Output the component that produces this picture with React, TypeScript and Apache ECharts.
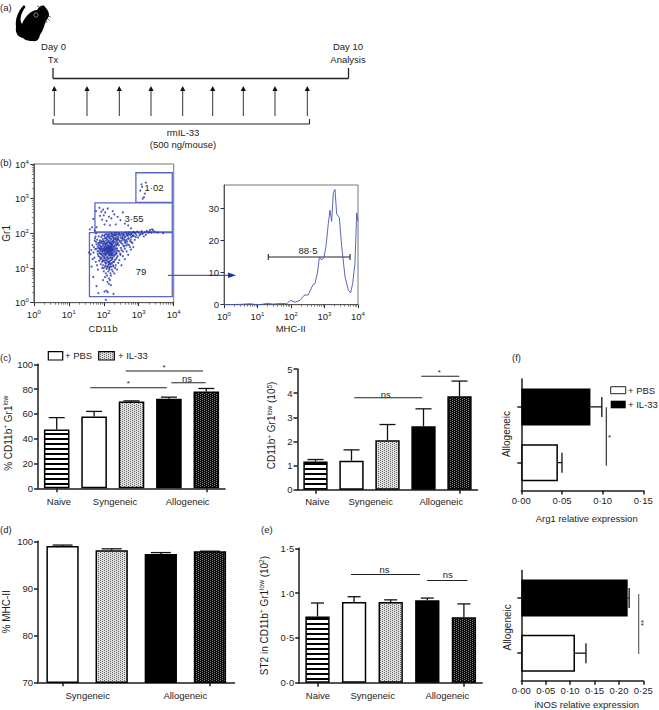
import React, { useEffect, useRef } from "react";
import * as echarts from "echarts";

const FONT = "Liberation Sans";
const INK = "#1c1c1c";

// (b) left: flow cytometry dots, CD11b vs Gr1
const coreDots = [
  [62,48],[66,30],[70,22],[71,38],[74,55],[75,27],[78,44],[80,18],[82,33],[83,60],[85,25],[87,41],[88,52],[90,15],[91,29],[93,36],[94,68],[96,22],[97,47],[99,31],
  [100,58],[102,19],[103,39],[105,26],[106,72],[108,34],[109,50],[110,14],[112,28],[113,43],[115,62],[116,23],[118,37],[119,30],[120,54],[122,17],[123,41],[125,26],[126,33],[128,66],
  [129,21],[130,46],[132,29],[133,38],[135,12],[136,57],[138,24],[139,35],[140,44],[142,19],[143,74],[145,31],[146,27],[148,51],[149,40],[150,16],[152,23],[153,36],[155,63],[156,29],
  [158,47],[159,33],[160,13],[162,25],[164,42],[165,55],[167,20],[168,38],[170,30],[172,80],[173,27],[175,49],[176,18],[178,35],[180,44],[182,24],[184,60],[185,32],[187,15],[189,39],
  [190,52],[192,28],[195,71],[197,22],[198,42],[200,35],[203,57],[205,30],[208,17],[210,46],[213,25],[215,66],[218,38],[220,52],[223,33],[225,85],[228,44],[230,28],[233,60],[236,20],
  [238,48],[240,36],[244,75],[247,55],[250,31],[72,31],[76,36],[79,26],[81,40],[84,30],[86,35],[89,24],[92,43],[95,33],[98,26],[101,36],[104,31],[107,42],[109,24],[111,37],
  [114,33],[117,27],[121,35],[124,39],[127,30],[131,34],[134,27],[137,42],[141,30],[144,37],[147,23],[151,33],[154,41],[157,26],[161,36],[163,31],[166,48],[169,25],[171,42],[174,33],
  [77,21],[83,19],[92,17],[97,16],[104,21],[110,19],[116,17],[124,20],[131,18],[139,15],[147,14],[155,20],[163,17],[172,23],[180,20],[68,42],[73,47],[81,52],[90,58],[99,49],
  [107,55],[117,48],[126,52],[135,61],[145,56],[156,52],[166,68],[178,58],[190,64],[205,72],[118,70],[134,80],[150,72],[170,90],[185,76],[205,88],[222,72],[240,92],[255,66],[262,80],
  [56,72],[60,57],[63,36],[65,66],[67,25],[69,52],[72,82],[74,16],[77,63],[79,35],[82,13],[85,78],[88,20],[91,88],[94,12],[97,60],[100,10],[103,84],[106,16],[109,92],
  [112,12],[115,76],[118,14],[121,95],[124,11],[127,82],[130,15],[133,92],[137,13],[140,86],[144,10],[148,96],[152,13],[157,82],[162,11],[167,100],[172,14],[178,94],[184,12],[190,88],
  [196,15],[202,100],[208,24],[214,92],[220,18],[226,102],[232,26],[240,66],[248,22],[256,50],[264,96],[272,30],[284,62],[296,26],[308,54],[322,33],[336,70],[352,30],[368,44],[384,64],
  [400,36],[420,52],[440,44],[465,58],[495,70],[525,46],[560,40],[590,66],[620,56],[650,82],
];
const bandDots = [
  [260,68],[270,45],[280,90],[290,58],[300,75],[310,38],[320,96],[330,62],[340,50],[350,84],[360,100],[370,70],[380,42],[390,92],[400,56],[415,80],[430,105],[445,66],[460,88],[480,48],
  [500,98],[520,72],[540,108],[560,60],[580,90],[600,78],[630,100],[660,52],[700,110],[730,84],[770,65],[800,102],[850,90],[900,112],[950,76],[1000,105],[1100,95],[1200,115],[1300,100],[1400,82],
  [1500,108],[1700,118],[1900,105],[2100,125],[2400,130],[2600,122],[2900,110],[3500,105],[5000,102],[275,102],[305,88],[335,76],[365,92],[395,78],[425,62],[455,95],[490,84],[530,94],[610,96],[680,88],
  [750,104],[820,78],[1050,88],[1250,96],[1600,92],[2000,112],[2300,105],
];
const tailDots = [
  [90,10],[100,8],[110,11],[115,7],[120,9.5],[125,6],[130,10.5],[135,8],[140,5],[145,9],[150,11],[155,7],[160,6],[170,9],[180,8],[190,11],[200,7],[210,10],[220,12],[240,9],
  [260,14],[280,17],[320,12],[350,22],[400,18],[450,30],[500,24],[600,34],[700,40],[140,3.5],[150,4.5],[160,3.2],[120,2.2],[130,2],[105,2.1],[190,1.8],[115,1.2],[70,1.9],[62,3],[50,5.5],
  [45,11],[48,18],[42,25],[38,28],[52,40],[55,62],[58,80],[60,100],[44,33],[47,46],[51,28],[54,20],[57,35],[59,15],[64,12],[68,9],[95,4.5],[108,5.5],[128,4],[300,24],
];
const upperDots = [
  [60,440],[62,150],[75,540],[78,320],[85,420],[90,250],[95,480],[100,330],[105,180],[110,400],[120,230],[130,520],[140,300],[150,170],[165,270],[180,440],[200,350],[220,180],[250,300],[300,240],
  [350,400],[400,190],[500,170],[600,140],[55,120],[40,130],[46,150],[50,260],
];
const topDots = [[1100,1700],[1200,2600],[1250,2200],[1300,1000],[1400,1100],[1500,1400],[1600,2900]];
const gates = [
  [830, 780, 9100, 5600],
  [56, 110, 9100, 760],
  [39, 1.5, 9100, 105],
];

// (b) right: histogram
const histogram = [
  [1,0],[3,0.1],[6,0.3],[8.4,0.1],[12,0],[18.8,0.4],[30,0.2],[52,0.4],[74,0.3],[98,1.35],[132,0.8],[186,1.35],[245,2.9],[330,3.1],[446,6.1],[521,6.6],[614,9.8],[705,14.8],
  [826,13.9],[966,14.8],[1109,18.2],[1300,25.2],[1459,29.4],[1637,25.9],[1836,34.8],[2057,35.8],[2308,28.2],[2773,27.1],[3253,18.2],[4093,8.7],[5145,4.5],[6040,3.7],[6930,6.6],[8130,12.9],[9120,28.5],[10000,26],
];

// (c) left
const pctValues = [47.5, 58, 70, 72.3, 78];
const pctTops = [57, 62, 70.5, 73.5, 80.5];
// (c) right
const countValues = [1.17, 1.2, 2.05, 2.63, 3.87];
const countTops = [1.25, 1.65, 2.7, 3.35, 4.5];
// (d)
const mhcValues = [99, 98.1, 97.3, 97.9];
const mhcTops = [99.2, 98.4, 97.6, 97.9];
// (e)
const st2Values = [0.74, 0.9, 0.9, 0.92, 0.73];
const st2Tops = [0.89, 0.96, 0.925, 0.945, 0.88];
// (f)
const arg1Values = [0.045, 0.085];
const arg1Tops = [0.05, 0.099];
const inosValues = [0.11, 0.218];
const inosTops = [0.1325, 0.221];

const fiveGroups = ["Naive", "Syngeneic PBS", "Syngeneic IL-33", "Allogeneic PBS", "Allogeneic IL-33"];
const fourGroups = ["Syngeneic PBS", "Syngeneic IL-33", "Allogeneic PBS", "Allogeneic IL-33"];
const twoGroups = ["+ PBS", "+ IL-33"];
const logMinor = [2,3,4,5,6,7,8,9,20,30,40,50,60,70,80,90,200,300,400,500,600,700,800,900,2000,3000,4000,5000,6000,7000,8000,9000];
const arrowXs = [54.3, 87, 119.3, 151, 182.7, 212.7, 243.3, 275, 307.3];

function pattern(kind: "stripe" | "light" | "dark") {
  const c = document.createElement("canvas");
  c.width = 4;
  c.height = kind === "stripe" ? 5 : 4;
  const g = c.getContext("2d")!;
  if (kind === "stripe") {
    g.fillStyle = "#fff"; g.fillRect(0, 0, 4, 5);
    g.fillStyle = "#000"; g.fillRect(0, 3, 4, 2);
  } else {
    g.fillStyle = kind === "light" ? "#e0e0e0" : "#0c0c0c"; g.fillRect(0, 0, 4, 4);
    g.fillStyle = kind === "light" ? "#666" : "#808080";
    [[0,0],[2,1],[0,2],[2,3]].forEach(([x, y]) => g.fillRect(x, y, 1, 1));
  }
  return { image: c, repeat: "repeat", imageWidth: c.width, imageHeight: c.height };
}

const txt = (text: string, x: number, y: number, o: any = {}) => ({
  type: "text", x, y, silent: true, rotation: o.rotation || 0,
  style: { text, fontFamily: FONT, fontSize: o.size || 9.5, fill: o.fill || INK, align: o.align || "center", verticalAlign: "middle" },
});
const seg = (x1: number, y1: number, x2: number, y2: number, o: any = {}) => ({
  type: "line", silent: true, shape: { x1, y1, x2, y2 }, style: { stroke: o.stroke || "#222", lineWidth: o.width || 1.1 },
});

const errorBars = (idx: number, rows: number[][], horizontal: boolean, cap: number) => ({
  type: "custom", xAxisIndex: idx, yAxisIndex: idx, data: rows, silent: true, clip: false,
  encode: horizontal ? { x: [0, 2], y: 1 } : { x: 0, y: [1, 2] },
  renderItem: (_: any, api: any) => {
    const from = api.coord([api.value(0), api.value(1)]);
    const to = horizontal ? api.coord([api.value(2), api.value(1)]) : api.coord([api.value(0), api.value(2)]);
    const style = { stroke: "#111", lineWidth: 1.3 };
    const capShape = horizontal
      ? { x1: to[0], y1: to[1] - cap, x2: to[0], y2: to[1] + cap }
      : { x1: to[0] - cap, y1: to[1], x2: to[0] + cap, y2: to[1] };
    return { type: "group", children: [
      { type: "line", shape: { x1: from[0], y1: from[1], x2: to[0], y2: to[1] }, style },
      { type: "line", shape: capShape, style },
    ] };
  },
});

const barSeries = (idx: number, values: number[], fills: any[], width: number, border = true) => ({
  type: "bar", xAxisIndex: idx, yAxisIndex: idx, barWidth: width, silent: true,
  data: values.map((v, i) => ({ value: v, itemStyle: { color: fills[i], borderColor: "#000", borderWidth: border ? 1.5 : 0 } })),
});

const logLabel = (v: number) => `{b|10}{s|${Math.round(Math.log10(v))}}`;
const dotNum = (d: number) => (v: number) => v.toFixed(d).replace(".", "·");
const nameRich = {
  n: { fontSize: 10, fontFamily: FONT, color: INK, lineHeight: 12 },
  sup: { fontSize: 6.5, fontFamily: FONT, color: INK, verticalAlign: "top", lineHeight: 12 },
};

const lineStyle = { color: INK, width: 1.5 };
const numLabel = { color: INK, fontSize: 9.5, fontFamily: FONT, margin: 5 };

function valueAxis(gridIndex: number, min: number, max: number, interval: number, o: any = {}) {
  return {
    type: "value", gridIndex, min, max, interval, splitLine: { show: false },
    axisLine: { show: true, onZero: false, lineStyle }, axisTick: { show: true, length: 4, lineStyle },
    axisLabel: { ...numLabel, ...(o.decimals != null ? { formatter: dotNum(o.decimals) } : {}) },
    ...(o.name ? { name: o.name, nameLocation: "middle", nameGap: o.gap,
      nameTextStyle: { color: INK, fontSize: 10, fontFamily: FONT, rich: nameRich, padding: o.pad || 0 } } : {}),
    ...(o.extra || {}),
  };
}
function catAxis(gridIndex: number, data: string[], position?: string) {
  return {
    type: "category", gridIndex, data, position, splitLine: { show: false },
    axisLine: { show: true, onZero: false, lineStyle }, axisTick: { show: true, length: 4, alignWithLabel: true, lineStyle },
    axisLabel: { show: false },
  };
}
function logAxis(gridIndex: number, position: string, color: string) {
  return {
    type: "log", logBase: 10, gridIndex, min: 1, max: 10000, position, splitLine: { show: false },
    axisLine: { show: true, onZero: false, lineStyle: { color, width: 1 } },
    axisTick: { show: true, length: 3.5, lineStyle: { color: "#333", width: 1 } },
    axisLabel: { color: INK, fontSize: 9.5, fontFamily: FONT, margin: position === "left" ? 5 : 6, formatter: logLabel,
      rich: {
        b: { fontSize: 9.5, fontFamily: FONT, color: INK, lineHeight: 11 },
        s: { fontSize: 6, fontFamily: FONT, color: INK, verticalAlign: "top", lineHeight: 11 },
      } },
  };
}
function minorLogAxis(gridIndex: number, position: string) {
  return {
    type: "log", logBase: 10, gridIndex, min: 1, max: 10000, position, splitLine: { show: false },
    axisLine: { show: false, onZero: false }, axisLabel: { show: false },
    axisTick: { show: true, length: 2, customValues: logMinor, lineStyle: { color: "#555", width: 0.7 } },
  };
}

export default function App() {
  const ref = useRef<HTMLDivElement>(null);
  useEffect(() => {
    echarts.graphic.registerShape("mouseShape", echarts.graphic.extendPath(
      "M22 24 C25 16 32 10 37 10 C39 6 44 4 45 7 C49 11 50 15 48 18 L46 21 C44 26 43 31 40 35 C39 39 37 42 33 41 C29 41 26 41 23 38 C18 37 15 33 16 27 C15 19 18 11 24 5 L25.5 7 C21 13 19 20 22 24 Z", {}) as any);

    const stripe = pattern("stripe"), light = pattern("light"), dark = pattern("dark");
    const fills5 = [stripe, "#fff", light, "#000", dark];
    const fills4 = ["#fff", light, "#000", dark];

    const chart = echarts.init(ref.current!, null, { renderer: "svg" });
    const blue = "#2132a8";
    const graphics: any[] = [
      // panel letters
      txt("(a)", 0, 7, { align: "left" }), txt("(b)", 0, 162, { align: "left" }), txt("(c)", 0, 357, { align: "left" }),
      txt("(d)", 0, 529, { align: "left" }), txt("(e)", 261, 529, { align: "left" }), txt("(f)", 512, 357, { align: "left" }),
      // (a) schedule
      { type: "mouseShape", silent: true, style: { fill: "#000" } },
      seg(37, 6, 44, 9, { width: 0.6 }), seg(45, 15, 51, 17, { width: 0.6 }), seg(45, 16, 50, 21, { width: 0.6 }), seg(44, 17, 47, 23, { width: 0.6 }),
      { type: "circle", silent: true, shape: { cx: 36, cy: 15, r: 2.2 }, style: { fill: "none", stroke: "#ccc", lineWidth: 0.6 } },
      txt("Day 0", 53.5, 46), txt("Tx", 53, 59), txt("Day 10", 348, 46), txt("Analysis", 348, 59.6),
      seg(53, 68, 53, 78.5, { width: 1.3 }), seg(53, 78.5, 348.5, 78.5, { width: 1.3 }), seg(348.5, 68, 348.5, 78.5, { width: 1.3 }),
      seg(53, 124, 309.5, 124), seg(53, 119, 53, 124), seg(309.5, 119, 309.5, 124),
      txt("rmIL-33", 183, 132.5), txt("(500 ng/mouse)", 183, 144.5),
      ...arrowXs.flatMap((x) => [
        seg(x, 90, x, 116, { width: 1, stroke: "#333" }),
        { type: "polygon", silent: true, shape: { points: [[x, 86], [x - 2.6, 91], [x + 2.6, 91]] }, style: { fill: "#111" } },
      ]),
      // (b) annotations
      txt("CD11b", 103, 328), txt("MHC-II", 290.7, 328),
      txt("1·02", 154, 187.7), txt("3·55", 134, 218), txt("79", 141, 271.3), txt("88·5", 308, 250.7),
      seg(268.3, 257, 350, 257, { width: 1.2 }), seg(268.3, 254, 268.3, 260), seg(350, 254, 350, 260),
      seg(168, 275.3, 230, 275.3, { stroke: blue, width: 1 }),
      { type: "polygon", silent: true, shape: { points: [[236, 275.3], [228, 272.5], [228, 278.1]] }, style: { fill: blue } },
      // (c) legend
      { type: "rect", silent: true, shape: { x: 48.3, y: 351.7, width: 14.4, height: 8.3 }, style: { fill: "#fff", stroke: "#000", lineWidth: 1.2 } },
      txt("+ PBS", 65, 355.6, { align: "left" }),
      { type: "rect", silent: true, shape: { x: 98.7, y: 351.7, width: 15.6, height: 8.3 }, style: { fill: light, stroke: "#000", lineWidth: 1.2 } },
      txt("+ IL-33", 118, 355.6, { align: "left" }),
      // (c) left significance
      seg(125.7, 371, 203, 371), txt("*", 164, 367, { size: 8 }),
      seg(90.3, 387.7, 166.7, 387.7), txt("*", 128.3, 383.5, { size: 8 }),
      seg(171.3, 382.7, 205.7, 382.7), txt("ns", 187, 378),
      // (c) right significance
      seg(354.3, 397.7, 422.3, 397.7), txt("ns", 385.7, 394),
      seg(421.3, 376.3, 459.3, 376.3), txt("*", 439.3, 372.5, { size: 8 }),
      // group labels
      txt("Naive", 59, 501), txt("Syngeneic", 115, 501), txt("Allogeneic", 187.7, 501),
      txt("Naive", 317.3, 501), txt("Syngeneic", 370.7, 501), txt("Allogeneic", 441.3, 501),
      txt("Syngeneic", 87.7, 695.3), txt("Allogeneic", 185.3, 695.3),
      txt("Naive", 318, 695.3), txt("Syngeneic", 372.7, 695.3), txt("Allogeneic", 447.3, 695.3),
      // (e) significance
      seg(351, 574.5, 420, 574.5), txt("ns", 384.5, 569),
      seg(427, 580.5, 467.5, 580.5), txt("ns", 447.7, 574.5),
      // (f)
      { type: "rect", silent: true, shape: { x: 610.7, y: 386.7, width: 15, height: 7 }, style: { fill: "#fff", stroke: "#222", lineWidth: 1 } },
      txt("+ PBS", 628, 390, { align: "left" }),
      { type: "rect", silent: true, shape: { x: 610.7, y: 400.7, width: 15, height: 7.6 }, style: { fill: "#000" } },
      txt("+ IL-33", 628, 404.5, { align: "left" }),
      seg(606.3, 407.3, 606.3, 465.7), txt("*", 609.5, 437, { size: 8 }),
      seg(638.7, 594, 638.7, 654, { stroke: "#555" }), txt("**", 643.3, 623, { size: 8, rotation: Math.PI / 2 }),
      txt("Allogeneic", 506.7, 434, { rotation: Math.PI / 2, size: 10 }), txt("Allogeneic", 507.3, 627.3, { rotation: Math.PI / 2, size: 10 }),
      txt("Arg1 relative expression", 586.7, 518), txt("iNOS relative expression", 586.7, 704.7),
    ];

    const option: any = {
      animation: false,
      backgroundColor: "#fff",
      textStyle: { fontFamily: FONT },
      graphic: { elements: graphics },
      grid: [
        { left: 33, top: 164, width: 140.7, height: 138.7, show: true, borderColor: "#777", borderWidth: 1, backgroundColor: "transparent" },
        { left: 224, top: 185, width: 134, height: 119.7, show: true, borderColor: "#777", borderWidth: 1, backgroundColor: "transparent" },
        { left: 38, top: 364.3, width: 187, height: 124 },
        { left: 297.5, top: 369, width: 180, height: 120.7 },
        { left: 36.5, top: 541.3, width: 198, height: 141 },
        { left: 299.2, top: 548.3, width: 183, height: 134.5 },
        { left: 521.3, top: 379, width: 122, height: 111.5 },
        { left: 521.3, top: 570.5, width: 122, height: 110.2 },
      ],
      xAxis: [
        logAxis(0, "bottom", "#555"),
        logAxis(1, "bottom", "#555"),
        catAxis(2, fiveGroups), catAxis(3, fiveGroups), catAxis(4, fourGroups), catAxis(5, fiveGroups),
        valueAxis(6, 0, 0.15, 0.05, { decimals: 2 }),
        valueAxis(7, 0, 0.25, 0.05, { decimals: 2 }),
        minorLogAxis(0, "bottom"), minorLogAxis(1, "bottom"),
      ],
      yAxis: [
        { ...logAxis(0, "left", "#555"), name: "Gr1", nameLocation: "middle", nameGap: 21,
          nameTextStyle: { color: INK, fontSize: 10, fontFamily: FONT } },
        valueAxis(1, 0, 37.2, 10, { extra: {
          axisTick: { show: true, length: 3.5, customValues: [0, 10, 20, 30], lineStyle: { color: "#333", width: 1 } },
          axisLabel: { ...numLabel, customValues: [0, 10, 20, 30] },
          axisLine: { show: true, onZero: false, lineStyle: { color: "#555", width: 1 } } } }),
        valueAxis(2, 0, 100, 20, { name: "{n|% CD11b}{sup|+}{n| Gr1}{sup|low}", gap: 24, pad: [0, 14, 0, 0] }),
        valueAxis(3, 0, 5, 1, { name: "{n|CD11b}{sup|+}{n| Gr1}{sup|low}{n| (10}{sup|5}{n|)}", gap: 20, pad: [0, 0, 0, 8] }),
        valueAxis(4, 70, 100, 10, { name: "% MHC-II", gap: 27 }),
        valueAxis(5, 0, 1.5, 0.5, { decimals: 1, name: "{n|ST2 in CD11b}{sup|+}{n| Gr1}{sup|low}{n| (10}{sup|2}{n|)}", gap: 29 }),
        { ...catAxis(6, twoGroups) },
        { ...catAxis(7, twoGroups) },
        minorLogAxis(0, "left"),
      ],
      series: [
        { type: "scatter", xAxisIndex: 0, yAxisIndex: 0, symbolSize: 2, silent: true,
          itemStyle: { color: blue }, data: [...coreDots, ...bandDots, ...tailDots, ...upperDots, ...topDots] },
        { type: "custom", xAxisIndex: 0, yAxisIndex: 0, data: gates, silent: true, encode: { x: [0, 2], y: [1, 3] },
          renderItem: (_: any, api: any) => {
            const a = api.coord([api.value(0), api.value(1)]);
            const b = api.coord([api.value(2), api.value(3)]);
            return { type: "rect", shape: { x: a[0], y: b[1], width: b[0] - a[0], height: a[1] - b[1] },
              style: { fill: "none", stroke: "#5a67c4", lineWidth: 1.3 } };
          } },
        { type: "line", xAxisIndex: 1, yAxisIndex: 1, data: histogram, showSymbol: false, silent: true,
          lineStyle: { color: "#4756b8", width: 0.9 } },

        barSeries(2, pctValues, fills5, 25.6),
        errorBars(2, pctTops.map((t, i) => [i, pctValues[i], t]), false, 8),
        barSeries(3, countValues, fills5, 24.3),
        errorBars(3, countTops.map((t, i) => [i, countValues[i], t]), false, 8),
        barSeries(4, mhcValues, fills4, 32.3),
        errorBars(4, mhcTops.map((t, i) => [i, mhcValues[i], t]), false, 10),
        barSeries(5, st2Values, fills5, 24.3),
        errorBars(5, st2Tops.map((t, i) => [i, st2Values[i], t]), false, 6.5),
        barSeries(6, arg1Values, ["#fff", "#000"], 37),
        errorBars(6, arg1Tops.map((t, i) => [arg1Values[i], i, t]), true, 10),
        barSeries(7, inosValues, ["#fff", "#000"], 37),
        errorBars(7, inosTops.map((t, i) => [inosValues[i], i, t]), true, 10),
      ],
    };
    chart.setOption(option);
    return () => chart.dispose();
  }, []);
  return <div ref={ref} style={{ position: "absolute", left: 0, top: 0, width: 659, height: 710 }} />;
}
